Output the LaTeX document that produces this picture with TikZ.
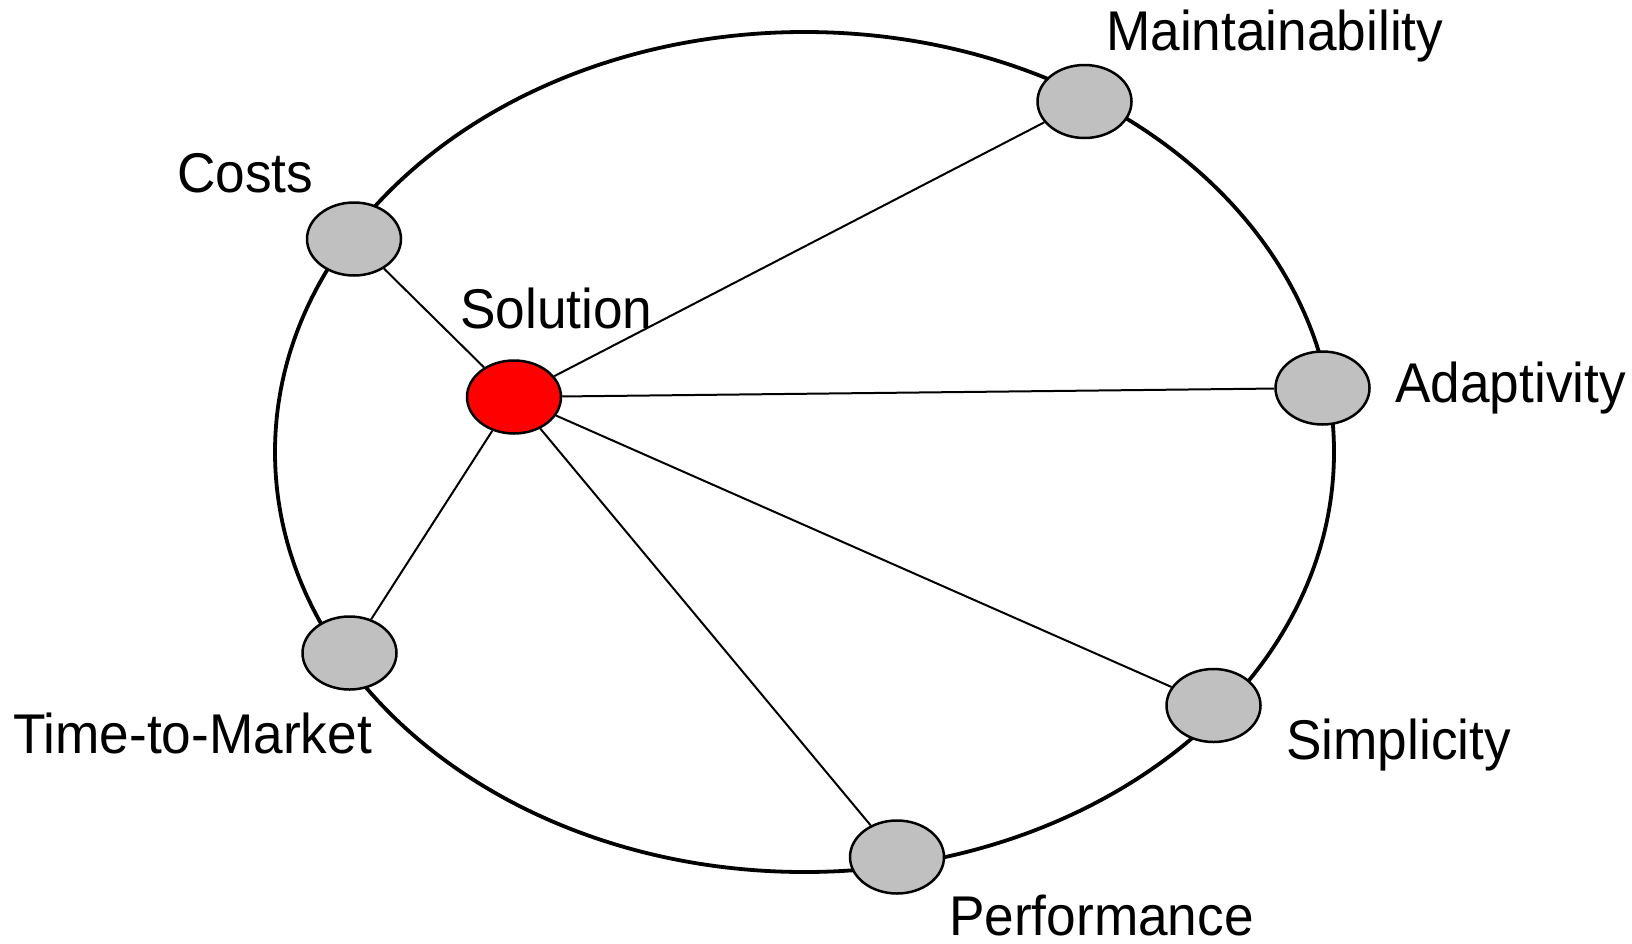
\documentclass[tikz,border=0pt]{standalone}
\usepackage{fontspec}
\setmainfont[FakeStretch=0.95]{Liberation Sans}
\usetikzlibrary{shapes.geometric}
\definecolor{nodegray}{HTML}{C0C0C0}
\definecolor{solred}{HTML}{FF0000}
\begin{document}
\begin{tikzpicture}[x=1pt,y=-1pt,
  attr/.style={ellipse, draw=black, line width=2.5pt, fill=nodegray,
    minimum width=94pt, minimum height=73pt, inner sep=0pt},
  sol/.style={attr, fill=solred},
  lbl/.style={anchor=base west, inner sep=0pt, font=\fontsize{56}{60}\selectfont},
  link/.style={draw=black, line width=2pt},
  ringstyle/.style={ellipse, draw=black, line width=3.8pt, minimum width=1059pt, minimum height=840pt, inner sep=0pt}]
\useasboundingbox (0,0) rectangle (1632,943);
\node[ringstyle] (ring) at (804.5,452) {};
\node[attr] (maint) at (1084.5,101.5) {};
\node[attr] (costs) at (354,239) {};
\node[sol]  (solution) at (514,397) {};
\node[attr] (adapt) at (1322.5,388) {};
\node[attr] (ttm) at (349.5,653) {};
\node[attr] (simp) at (1213.5,705.5) {};
\node[attr] (perf) at (897,857) {};
\draw[link] (solution) -- (maint);
\draw[link] (solution) -- (costs);
\draw[link] (solution) -- (adapt);
\draw[link] (solution) -- (ttm);
\draw[link] (solution) -- (simp);
\draw[link] (solution) -- (perf);
\node[lbl] (lmaint) at (1106,50) {Maintainability};
\node[lbl] (lcosts) at (177,192) {Costs};
\node[lbl] (lsol) at (460,328) {Solution};
\node[lbl] (ladapt) at (1395,402) {Adaptivity};
\node[lbl] (lttm) at (13,753) {Time-to-Market};
\node[lbl] (lsimp) at (1286,759) {Simplicity};
\node[lbl] (lperf) at (949,935) {Performance};
\end{tikzpicture}
\end{document}
